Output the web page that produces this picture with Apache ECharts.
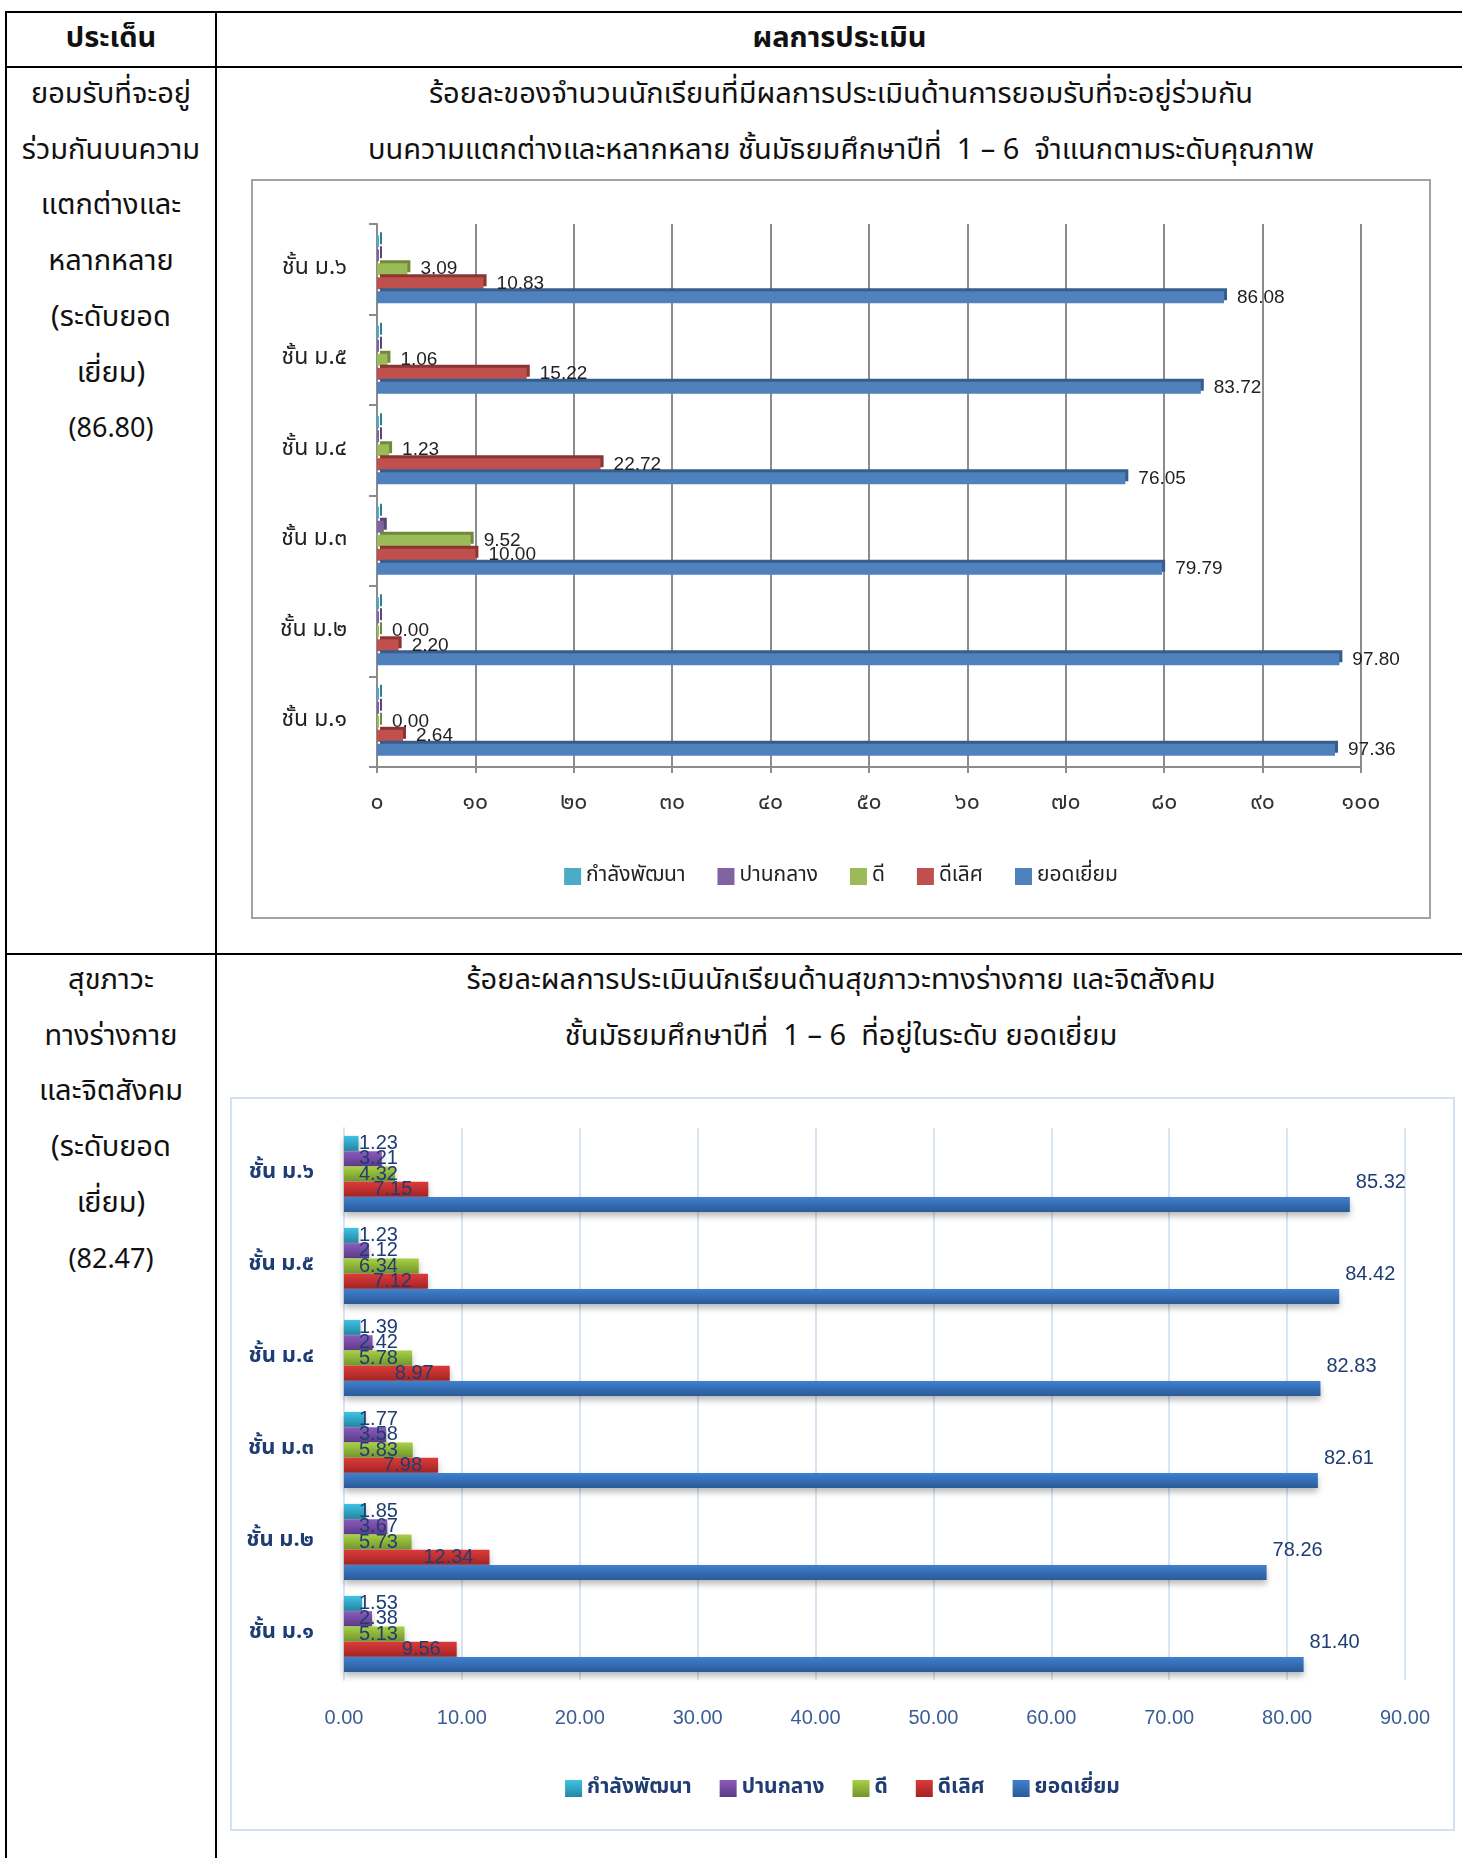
<!DOCTYPE html>
<html>
<head>
<meta charset="utf-8">
<script src="https://cdn.jsdelivr.net/npm/echarts@6/dist/echarts.min.js"></script>
<style>
  body { margin: 0; background: #fff; width: 1462px; height: 1858px; position: relative; overflow: hidden;
         font-family: "Noto Sans Thai", "Noto Sans", "DejaVu Sans", sans-serif; color: #111; }
  .ln { position: absolute; background: #000; }
  .cell { position: absolute; text-align: center; font-size: 29px; line-height: 55.7px; white-space: nowrap; }
  .box { position: absolute; box-sizing: border-box; }
  .chart { position: absolute; }
</style>
</head>
<body>
<!-- table lines -->
<div class="ln" style="left:5px;top:11px;width:1457px;height:2px"></div>
<div class="ln" style="left:5px;top:66px;width:1457px;height:2px"></div>
<div class="ln" style="left:5px;top:953px;width:1457px;height:2px"></div>
<div class="ln" style="left:5px;top:11px;width:2px;height:1847px"></div>
<div class="ln" style="left:215px;top:11px;width:2px;height:1847px"></div>

<div class="cell" style="left:7px;top:11px;width:208px;line-height:55px;font-weight:bold">ประเด็น</div>
<div class="cell" style="left:217px;top:11px;width:1245px;line-height:55px;font-weight:bold">ผลการประเมิน</div>

<div class="cell" style="left:7px;top:67px;width:208px">ยอมรับที่จะอยู่<br>ร่วมกันบนความ<br>แตกต่างและ<br>หลากหลาย<br>(ระดับยอด<br>เยี่ยม)<br><span style="font-size:27px">(86.80)</span></div>
<div class="cell" style="left:217px;top:67px;width:1248px">ร้อยละของจำนวนนักเรียนที่มีผลการประเมินด้านการยอมรับที่จะอยู่ร่วมกัน<br>บนความแตกต่างและหลากหลาย ชั้นมัธยมศึกษาปีที่&nbsp; 1 – 6&nbsp; จำแนกตามระดับคุณภาพ</div>

<div class="cell" style="left:7px;top:953px;width:208px">สุขภาวะ<br>ทางร่างกาย<br>และจิตสังคม<br>(ระดับยอด<br>เยี่ยม)<br><span style="font-size:27px">(82.47)</span></div>
<div class="cell" style="left:217px;top:953px;width:1248px">ร้อยละผลการประเมินนักเรียนด้านสุขภาวะทางร่างกาย และจิตสังคม<br>ชั้นมัธยมศึกษาปีที่&nbsp; 1 – 6&nbsp; ที่อยู่ในระดับ ยอดเยี่ยม</div>

<div class="box" style="left:251px;top:179px;width:1180px;height:740px;border:2px solid #a3a3a3"></div>
<div id="c1" class="chart" style="left:252px;top:180px;width:1178px;height:738px"></div>
<div class="box" style="left:230px;top:1097px;width:1225px;height:734px;border:2px solid #d3e1f1"></div>
<div id="c2" class="chart" style="left:231px;top:1098px;width:1223px;height:732px"></div>

<script>
// categories and legend names
const grades = ['ชั้น ม.๑', 'ชั้น ม.๒', 'ชั้น ม.๓', 'ชั้น ม.๔', 'ชั้น ม.๕', 'ชั้น ม.๖'];
const levels = ['กำลังพัฒนา', 'ปานกลาง', 'ดี', 'ดีเลิศ', 'ยอดเยี่ยม'];
const thaiTicks = ['๐', '๑๐', '๒๐', '๓๐', '๔๐', '๕๐', '๖๐', '๗๐', '๘๐', '๙๐', '๑๐๐'];

// chart 1 : ยอมรับที่จะอยู่ร่วมกัน
const c1Excellent = [97.36, 97.80, 79.79, 76.05, 83.72, 86.08];
const c1VeryGood = [2.64, 2.20, 10.00, 22.72, 15.22, 10.83];
const c1Good = [0.00, 0.00, 9.52, 1.23, 1.06, 3.09];
const c1Fair = [0.00, 0.00, 0.69, 0.00, 0.00, 0.00];
const c1Developing = [0.00, 0.00, 0.00, 0.00, 0.00, 0.00];

// chart 2 : สุขภาวะทางร่างกาย และจิตสังคม
const c2Excellent = [81.40, 78.26, 82.61, 82.83, 84.42, 85.32];
const c2VeryGood = [9.56, 12.34, 7.98, 8.97, 7.12, 7.15];
const c2Good = [5.13, 5.73, 5.83, 5.78, 6.34, 4.32];
const c2Fair = [2.38, 3.67, 3.58, 2.42, 2.12, 3.21];
const c2Developing = [1.53, 1.85, 1.77, 1.39, 1.23, 1.23];

const thai = '"Noto Sans Thai", "Noto Sans", sans-serif';

// ---------- chart 1 (office 2007 look, fake 3d with offset shadow)
const pal1 = {
  'กำลังพัฒนา': ['#4bacc6', '#2d7f95'],
  'ปานกลาง': ['#8064a2', '#5b4678'],
  'ดี': ['#9bbb59', '#6f8a3c'],
  'ดีเลิศ': ['#c0504d', '#8b3532'],
  'ยอดเยี่ยม': ['#4f81bd', '#375d8b']
};
function s1(name, data, withLabel) {
  return {
    name: name, type: 'bar', data: data, barWidth: 12, barGap: '17%', barMinHeight: 2,
    itemStyle: { color: pal1[name][0], shadowColor: pal1[name][1], shadowOffsetX: 3, shadowOffsetY: -3, shadowBlur: 0 },
    label: {
      show: withLabel, position: 'right', distance: 13,
      fontFamily: '"Liberation Sans Narrow", "Liberation Sans", sans-serif', fontSize: 19, color: '#222',
      formatter: p => p.value.toFixed(2)
    }
  };
}
const gray = '#8c8c8c';
const chart1 = echarts.init(document.getElementById('c1'));
chart1.setOption({
  animation: false,
  grid: { left: 125, right: 69, top: 44, bottom: 151 },
  legend: {
    data: levels, left: 'center', top: 681, itemWidth: 17, itemHeight: 17, itemGap: 32, icon: 'rect',
    textStyle: { fontFamily: thai, fontSize: 21, color: '#222' }
  },
  xAxis: {
    type: 'value', min: 0, max: 100, interval: 10,
    axisLine: { show: true, lineStyle: { color: gray, width: 2 } },
    axisTick: { show: true, length: 6, lineStyle: { color: gray, width: 2 } },
    splitLine: { show: true, lineStyle: { color: gray, width: 2 } },
    axisLabel: { margin: 26, fontFamily: thai, fontSize: 23, color: '#333', formatter: v => thaiTicks[Math.round(v / 10)] }
  },
  yAxis: {
    type: 'category', data: grades,
    axisLine: { show: true, lineStyle: { color: gray, width: 2 } },
    axisTick: { show: true, length: 8, lineStyle: { color: gray, width: 2 } },
    axisLabel: { margin: 30, fontFamily: thai, fontSize: 23, color: '#222' }
  },
  series: [
    s1('กำลังพัฒนา', c1Developing, false),
    s1('ปานกลาง', c1Fair, false),
    s1('ดี', c1Good, true),
    s1('ดีเลิศ', c1VeryGood, true),
    s1('ยอดเยี่ยม', c1Excellent, true)
  ]
});

// ---------- chart 2 (gradient bars with soft shadow)
const pal2 = {
  'กำลังพัฒนา': ['#3ec3e2', '#2586a3'],
  'ปานกลาง': ['#8c5cbd', '#5c3b86'],
  'ดี': ['#a8d046', '#73952b'],
  'ดีเลิศ': ['#dc3b3a', '#a22424'],
  'ยอดเยี่ยม': ['#3f80d0', '#2b5a97']
};
const navy = '#1f3d73';
function s2(name, data, label) {
  const c = pal2[name];
  return {
    name: name, type: 'bar', data: data, barWidth: 15, barGap: '2%',
    itemStyle: {
      color: new echarts.graphic.LinearGradient(0, 0, 0, 1, [{ offset: 0, color: c[0] }, { offset: 1, color: c[1] }]),
      shadowColor: 'rgba(0,0,0,0.28)', shadowBlur: 6, shadowOffsetY: 4
    },
    label: Object.assign({
      show: true, fontFamily: '"Liberation Sans", sans-serif', fontSize: 20, color: navy,
      formatter: p => p.value.toFixed(2)
    }, label)
  };
}
const chart2 = echarts.init(document.getElementById('c2'));
chart2.setOption({
  animation: false,
  grid: { left: 113, right: 49, top: 30, bottom: 150 },
  legend: {
    data: levels, left: 'center', top: 675, itemWidth: 17, itemHeight: 17, itemGap: 28, icon: 'rect',
    textStyle: { fontFamily: thai, fontSize: 21, fontWeight: 'bold', color: navy }
  },
  xAxis: {
    type: 'value', min: 0, max: 90, interval: 10,
    axisLine: { show: false }, axisTick: { show: false },
    splitLine: { show: true, lineStyle: { color: '#d9e5f3', width: 2 } },
    axisLabel: { margin: 28, fontFamily: '"Liberation Sans", sans-serif', fontSize: 20, color: '#3a5d95', formatter: v => v.toFixed(2) }
  },
  yAxis: {
    type: 'category', data: grades,
    axisLine: { show: true, lineStyle: { color: '#d9e5f3', width: 2 } },
    axisTick: { show: false },
    axisLabel: { margin: 30, fontFamily: thai, fontSize: 22, fontWeight: 'bold', color: navy }
  },
  series: [
    s2('กำลังพัฒนา', c2Developing, { position: 'insideLeft', distance: 15 }),
    s2('ปานกลาง', c2Fair, { position: 'insideLeft', distance: 15 }),
    s2('ดี', c2Good, { position: 'insideLeft', distance: 15 }),
    s2('ดีเลิศ', c2VeryGood, { position: 'insideRight', distance: 16 }),
    s2('ยอดเยี่ยม', c2Excellent, { position: 'right', distance: 6, offset: [0, -22] })
  ]
});
</script>
</body>
</html>
